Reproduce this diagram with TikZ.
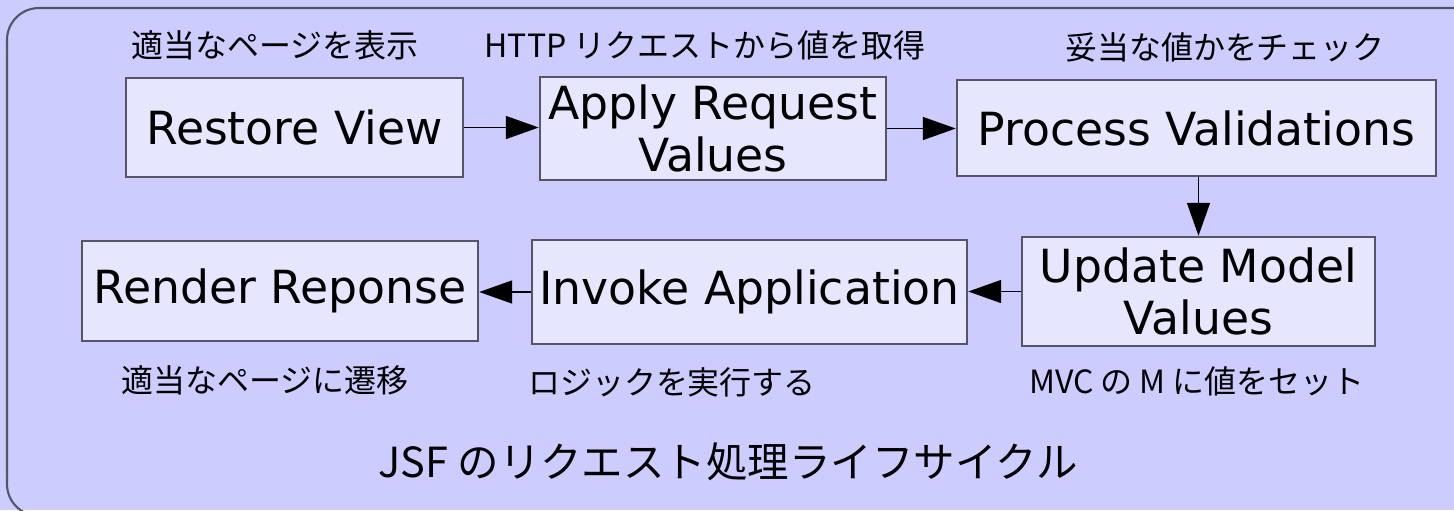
\documentclass[tikz,border=0pt]{standalone}
\usepackage{fontspec}
\usepackage{xcolor}
\usetikzlibrary{arrows.meta}
\setmainfont{DejaVu Sans}
\newfontfamily\jpfont{Noto Sans CJK JP}
\definecolor{bgblue}{HTML}{CCCCFF}
\definecolor{boxblue}{HTML}{E6E6FF}
\definecolor{edgegray}{HTML}{555566}
\tikzset{
  phase/.style={draw=edgegray, line width=0.7pt, fill=boxblue, align=center,
    font=\fontsize{13}{15}\selectfont, inner sep=0pt},
  note/.style={font=\jpfont\fontsize{9.1}{11}\selectfont},
  flow/.style={draw=black, line width=0.45pt,
    -{Triangle[length=0.33cm,width=0.23cm]}}
}

\begin{document}
\begin{tikzpicture}

\useasboundingbox (0,0) rectangle (14.54,-5.10);
\fill[bgblue] (0,0) rectangle (14.54,-5.10);
\draw[edgegray, line width=0.6pt, rounded corners=0.32cm] (0.07,-0.08) rectangle (14.9,-5.16);

% phases
\node[phase, minimum width=3.37cm, minimum height=0.99cm] (restore) at (2.945,-1.275) {Restore View};
\node[phase, minimum width=3.46cm, minimum height=1.03cm] (apply) at (7.13,-1.285) {Apply Request\\Values};
\node[phase, minimum width=4.79cm, minimum height=0.96cm] (validate) at (11.965,-1.28) {Process Validations};
\node[phase, minimum width=3.53cm, minimum height=1.09cm] (update) at (11.985,-2.915) {Update Model\\Values};
\node[phase, minimum width=4.35cm, minimum height=1.04cm] (invoke) at (7.495,-2.92) {Invoke Application};
\node[phase, minimum width=3.96cm, minimum height=1.00cm] (render) at (2.80,-2.91) {Render Reponse};

% notes
\node[note] (n1) at (2.75,-0.45) {適当なページを表示};
\node[note] (n2) at (7.05,-0.45) {HTTP リクエストから値を取得};
\node[note] (n3) at (12.25,-0.47) {妥当な値かをチェック};
\node[note] (n4) at (2.65,-3.80) {適当なページに遷移};
\node[note] (n5) at (6.72,-3.82) {ロジックを実行する};
\node[note] (n6) at (11.97,-3.81) {MVC の M に値をセット};
\node[font=\jpfont\fontsize{11.8}{14}\selectfont] (title) at (7.28,-4.62) {JSF のリクエスト処理ライフサイクル};

\draw[flow] (restore.east) -- (apply.west |- restore.east);
\draw[flow] (apply.east) -- (validate.west |- apply.east);
\draw[flow] (validate.south -| update.north) -- (update.north);
\draw[flow] (update.west) -- (invoke.east |- update.west);
\draw[flow] (invoke.west) -- (render.east |- invoke.west);

\end{tikzpicture}
\end{document}
